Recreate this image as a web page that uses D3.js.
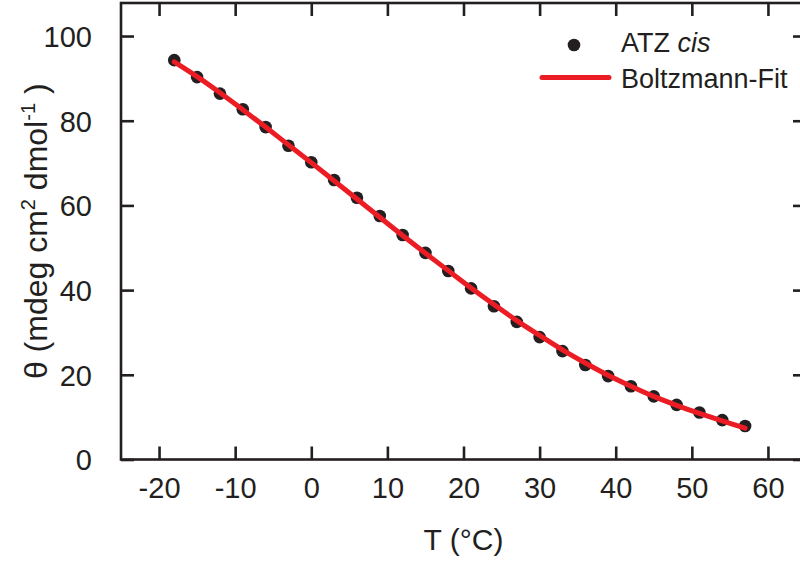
<!DOCTYPE html>
<html>
<head>
<meta charset="utf-8">
<script src="https://cdn.jsdelivr.net/npm/d3@7"></script>
<style>
  html, body { margin: 0; padding: 0; background: #fff; }
  svg { display: block; font-family: "Liberation Sans", Arial, Helvetica, sans-serif; }
</style>
</head>
<body>
<svg id="chart" width="800" height="565"></svg>
<script>
// Measured temperatures (°C) and ellipticity of ATZ cis
const temperature = [-18, -15, -12, -9, -6, -3, 0, 3, 6, 9, 12, 15, 18, 21, 24, 27, 30, 33, 36, 39, 42, 45, 48, 51, 54, 57];
const theta = [94.3, 90.3, 86.4, 82.7, 78.5, 74.1, 70.2, 66.0, 61.8, 57.5, 53.0, 48.8, 44.5, 40.4, 36.2, 32.5, 28.9, 25.6, 22.3, 19.7, 17.3, 14.9, 12.9, 11.1, 9.3, 7.9];
// Boltzmann fit evaluated at the measured temperatures
const fitTheta = [93.9, 90.4, 86.6, 82.6, 78.5, 74.3, 70.1, 65.8, 61.5, 57.2, 52.9, 48.7, 44.6, 40.5, 36.6, 32.8, 29.3, 25.9, 22.8, 19.9, 17.3, 14.9, 12.8, 10.9, 9.1, 7.4];
// Axis ticks
const xTicks = [-20, -10, 0, 10, 20, 30, 40, 50, 60];
const yTicks = [0, 20, 40, 60, 80, 100];
const legendLabels = ["ATZ", "cis", "Boltzmann-Fit"];

const ink = "#231f20";
const red = "#ec1c24";

const svg = d3.select("#chart");
const plotLeft = 121, plotRight = 806, plotTop = 3, plotBottom = 459.5;

const x = d3.scaleLinear().domain([-25, 65]).range([plotLeft, plotRight]);
const y = d3.scaleLinear().domain([0, 107.8]).range([plotBottom, plotTop]);

const tickLen = 13;
const axisW = 2.6;
// plain hyphen for negative tick labels
const fmt = d => String(d);

// Frame
svg.append("rect")
  .attr("x", plotLeft).attr("y", plotTop)
  .attr("width", plotRight - plotLeft).attr("height", plotBottom - plotTop)
  .attr("fill", "none").attr("stroke", ink).attr("stroke-width", axisW);

// Inward ticks on all four sides
function styleAxis(g) {
  g.select(".domain").remove();
  g.selectAll(".tick line").attr("stroke", ink).attr("stroke-width", axisW);
  g.selectAll(".tick text").attr("fill", ink).attr("font-size", 29);
}

const xBottom = svg.append("g").attr("transform", `translate(0,${plotBottom})`)
  .call(d3.axisBottom(x).tickValues(xTicks).tickSizeInner(-tickLen).tickSizeOuter(0).tickPadding(25)
    .tickFormat(fmt))
  .call(styleAxis);
xBottom.selectAll(".tick text").attr("dy", null).attr("y", 38.5);

svg.append("g").attr("transform", `translate(0,${plotTop})`)
  .call(d3.axisTop(x).tickValues(xTicks).tickSizeInner(-tickLen).tickSizeOuter(0).tickFormat(""))
  .call(styleAxis);

svg.append("g").attr("transform", `translate(${plotLeft},0)`)
  .call(d3.axisLeft(y).tickValues(yTicks).tickSizeInner(-tickLen).tickSizeOuter(0).tickPadding(29)
    .tickFormat(fmt))
  .call(styleAxis)
  .selectAll(".tick text").attr("dy", "0.36em");

svg.append("g").attr("transform", `translate(${plotRight},0)`)
  .call(d3.axisRight(y).tickValues(yTicks).tickSizeInner(-tickLen).tickSizeOuter(0).tickFormat(""))
  .call(styleAxis);

// Data points
const pts = temperature.map((t, i) => ({ t, v: theta[i], f: fitTheta[i] }));

svg.append("g").selectAll("circle").data(pts).join("circle")
  .attr("cx", d => x(d.t)).attr("cy", d => y(d.v)).attr("r", 6.3)
  .attr("fill", ink);

// Fit curve
svg.append("path").datum(pts)
  .attr("d", d3.line().x(d => x(d.t)).y(d => y(d.f)).curve(d3.curveCatmullRom))
  .attr("fill", "none").attr("stroke", red).attr("stroke-width", 5)
  .attr("stroke-linecap", "round");

// Axis titles
svg.append("text")
  .attr("x", (plotLeft + plotRight) / 2).attr("y", 550)
  .attr("text-anchor", "middle").attr("fill", ink).attr("font-size", 30)
  .text("T (°C)");

const yTitle = svg.append("text")
  .attr("transform", `translate(47,${(plotTop + plotBottom) / 2}) rotate(-90)`)
  .attr("text-anchor", "middle").attr("fill", ink).attr("font-size", 32);
yTitle.append("tspan").text("θ (mdeg cm");
yTitle.append("tspan").attr("font-size", 20).attr("dy", -12).text("2");
yTitle.append("tspan").attr("dy", 12).text(" dmol");
yTitle.append("tspan").attr("font-size", 20).attr("dy", -12).text("-1");
yTitle.append("tspan").attr("dy", 12).text(" )");

// Legend
const lg = svg.append("g");
lg.append("circle").attr("cx", 574).attr("cy", 45).attr("r", 6.3).attr("fill", ink);
const l1 = lg.append("text").attr("x", 621).attr("y", 52).attr("fill", ink).attr("font-size", 27);
l1.append("tspan").text(legendLabels[0] + " ");
l1.append("tspan").attr("font-style", "italic").text(legendLabels[1]);
lg.append("line").attr("x1", 542).attr("x2", 609).attr("y1", 77.5).attr("y2", 77.5)
  .attr("stroke", red).attr("stroke-width", 5).attr("stroke-linecap", "round");
lg.append("text").attr("x", 621).attr("y", 87.5).attr("fill", ink).attr("font-size", 27)
  .text(legendLabels[2]);
</script>
</body>
</html>
